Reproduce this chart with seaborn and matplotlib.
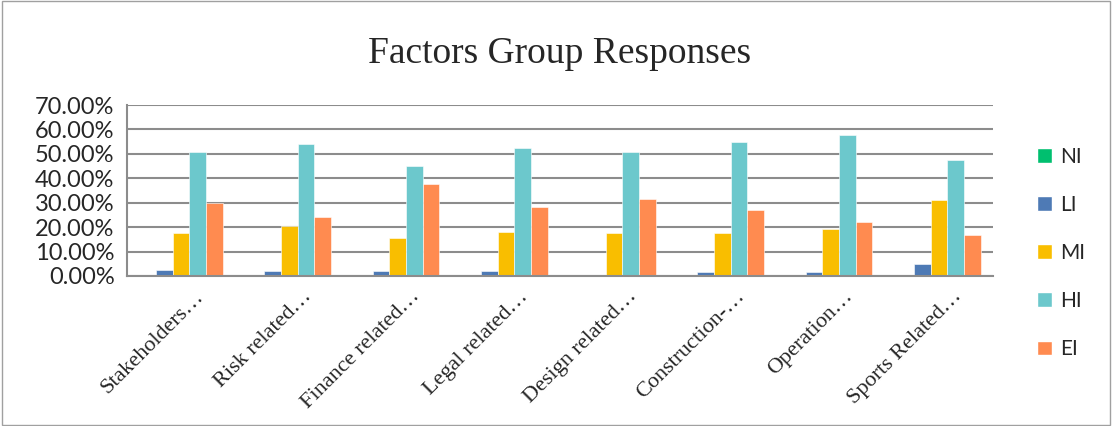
import numpy as np
import pandas as pd
import matplotlib
matplotlib.use("Agg")
import matplotlib.pyplot as plt
import matplotlib.transforms as mtransforms
from matplotlib.patches import Patch, Rectangle
import seaborn as sns

categories = ["Stakeholders…", "Risk related…", "Finance related…", "Legal related…",
              "Design related…", "Construction-…", "Operation…", "Sports Related…"]
series = ["NI", "LI", "MI", "HI", "EI"]
NI = [0.0, 0.0, 0.0, 0.0, 0.0, 0.0, 0.0, 0.0]
LI = [2.6, 2.0, 2.0, 2.0, 0.5, 1.5, 1.5, 5.0]
MI = [17.5, 20.3, 15.7, 18.0, 17.5, 17.5, 19.2, 31.1]
HI = [50.6, 54.2, 45.2, 52.4, 50.6, 54.7, 57.7, 47.6]
EI = [29.9, 24.0, 37.7, 28.1, 31.5, 26.9, 22.1, 16.8]
yticks = [0, 10, 20, 30, 40, 50, 60, 70]
colors = ["#00BF6F", "#4E7AB5", "#F9BE00", "#6CC8CC", "#FF8B50"]

rows = []
for s, vals in zip(series, [NI, LI, MI, HI, EI]):
    for c, v in zip(categories, vals):
        rows.append({"cat": c, "series": s, "val": v})
df = pd.DataFrame(rows)

sns.set_style("white")
plt.rcParams["font.family"] = ["Lato", "DejaVu Sans"]

fig = plt.figure(figsize=(11.12, 4.26), dpi=100)
ax = fig.add_axes([127/1112, 1-276/426, (993-127)/1112, (276-105)/426])

sns.barplot(data=df, x="cat", y="val", hue="series", order=categories,
            hue_order=series, palette=colors, saturation=1, width=0.77, ax=ax,
            edgecolor="white", linewidth=0.4, legend=False, errorbar=None)

ax.set_ylim(0, 70)
ax.set_xlim(-0.5, len(categories) - 0.5)
ax.set_yticks(yticks)
ax.set_yticklabels([f"{t:.2f}%" for t in yticks], fontsize=17)
ax.yaxis.grid(True, color="#8C8C8C", linewidth=1.5)
ax.set_axisbelow(True)
ax.set_xlabel("")
ax.set_ylabel("")

for side in ["top", "right"]:
    ax.spines[side].set_visible(False)
for side in ["left", "bottom"]:
    ax.spines[side].set_color("#8C8C8C")
    ax.spines[side].set_linewidth(1.5)

ax.set_xticks(np.arange(-0.5, len(categories), 1.0))
ax.set_xticklabels([])
ax.set_xticks(np.arange(len(categories)), minor=True)
ax.set_xticklabels(categories, minor=True, rotation=45, ha="right",
                   rotation_mode="anchor", fontsize=16,
                   fontfamily=["Liberation Serif", "DejaVu Serif"])
ax.tick_params(axis="x", which="major", length=6, width=1.5, color="#8C8C8C", direction="out")
ax.tick_params(axis="x", which="minor", length=0, pad=8)
ax.tick_params(axis="y", length=5, width=1.5, color="#8C8C8C", direction="out", pad=4)
offset = mtransforms.ScaledTranslation(0.13, 0.0, fig.dpi_scale_trans)
for lbl in ax.xaxis.get_minorticklabels():
    lbl.set_transform(lbl.get_transform() + offset)

fig.text(560/1112, 1-54/426, "Factors Group Responses", ha="center", va="center",
         fontsize=27, fontfamily=["Liberation Serif", "DejaVu Serif"])

handles = [Patch(facecolor=c, label=s) for c, s in zip(colors, series)]
fig.legend(handles=handles, loc="upper left", bbox_to_anchor=(1018/1112, 1-128/426),
           frameon=False, fontsize=15, labelspacing=1.35, handlelength=0.72,
           handleheight=0.72, handletextpad=0.4)

fig.patches.append(Rectangle((0.002, 0.003), 0.996, 0.994, transform=fig.transFigure,
                             fill=False, edgecolor="#A0A0A0", linewidth=1.0))

fig.savefig("out.png", dpi=100)
